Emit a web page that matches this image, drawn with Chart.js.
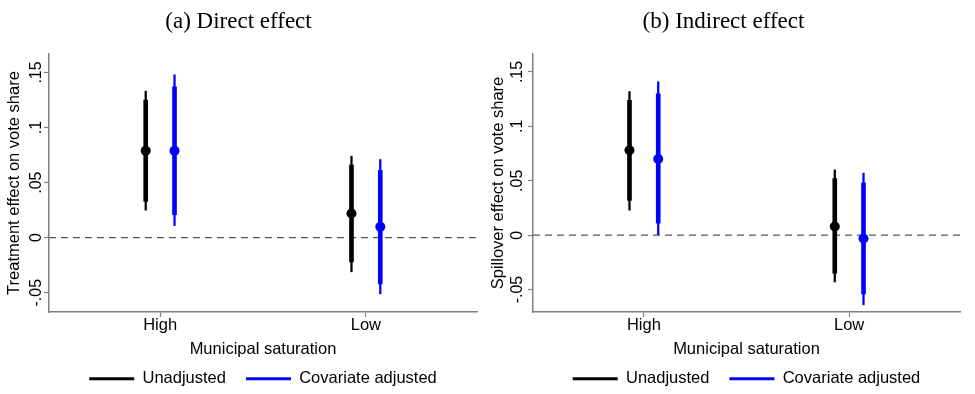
<!DOCTYPE html>
<html>
<head>
<meta charset="utf-8">
<script src="https://cdn.jsdelivr.net/npm/chart.js@4.4.0/dist/chart.umd.min.js"></script>
<style>
  body { margin: 0; background: #ffffff; }
  .wrap { display: flex; width: 975px; height: 394px; }
  canvas { display: block; }
</style>
</head>
<body>
<div class="wrap">
  <canvas id="direct" width="487" height="394"></canvas>
  <canvas id="indirect" width="488" height="394"></canvas>
</div>
<script>
// categories and series
var categories = ['High', 'Low'];
var seriesNames = ['Unadjusted', 'Covariate adjusted'];
var seriesColors = ['#000000', '#0000ff'];

// y ticks (Stata style labels)
var yTicks = [-0.05, 0, 0.05, 0.1, 0.15];
var yTickLabels = ['-.05', '0', '.05', '.1', '.15'];

// (a) direct effect - point estimates and intervals [low, high]
var directUnadj = [0.079, 0.022];
var directUnadjCI90 = [[0.033, 0.125], [-0.022, 0.066]];
var directUnadjCI95 = [[0.025, 0.133], [-0.031, 0.074]];
var directAdj = [0.079, 0.010];
var directAdjCI90 = [[0.021, 0.137], [-0.042, 0.061]];
var directAdjCI95 = [[0.011, 0.148], [-0.051, 0.071]];

// (b) indirect effect
var indirectUnadj = [0.078, 0.008];
var indirectUnadjCI90 = [[0.032, 0.124], [-0.035, 0.052]];
var indirectUnadjCI95 = [[0.023, 0.132], [-0.043, 0.060]];
var indirectAdj = [0.070, -0.003];
var indirectAdjCI90 = [[0.011, 0.130], [-0.054, 0.048]];
var indirectAdjCI95 = [[0.000, 0.141], [-0.064, 0.057]];

var axisColor = '#808080';
var sans = 'Liberation Sans, Arial, sans-serif';
var textFont = { family: sans, size: 16.5 };

function buildChart(id, cfg) {
    var shift = [-0.07, 0.07];
    var xMin = 1 - 0.54, xMax = 2 + 0.54;
    var datasets = [];

    // markers on top
    for (var s = 0; s < 2; s++) {
        datasets.push({
            type: 'scatter',
            data: cfg.est[s].map(function (v, i) { return { x: i + 1 + shift[s], y: v }; }),
            pointRadius: 5,
            pointBackgroundColor: seriesColors[s],
            pointBorderWidth: 0
        });
    }
    // thick (inner) intervals
    for (var s = 0; s < 2; s++) {
        datasets.push({
            type: 'bar',
            data: cfg.ci90[s].map(function (r, i) { return { x: i + 1 + shift[s], y: r }; }),
            backgroundColor: seriesColors[s],
            barThickness: 4,
            grouped: false,
            borderWidth: 0
        });
    }
    // thin (outer) intervals
    for (var s = 0; s < 2; s++) {
        datasets.push({
            type: 'bar',
            data: cfg.ci95[s].map(function (r, i) { return { x: i + 1 + shift[s], y: r }; }),
            backgroundColor: seriesColors[s],
            barThickness: 1.6,
            grouped: false,
            borderWidth: 0
        });
    }
    // zero reference line
    datasets.push({
        type: 'line',
        data: [{ x: xMin, y: 0 }, { x: xMax, y: 0 }],
        borderColor: '#555555',
        borderWidth: 1.3,
        borderDash: [7, 5],
        pointRadius: 0
    });

    new Chart(document.getElementById(id), {
        type: 'bar',
        data: { datasets: datasets },
        options: {
            responsive: false,
            animation: false,
            events: [],
            layout: { padding: { left: 0, right: cfg.padRight, top: 0, bottom: -3 } },
            scales: {
                x: {
                    type: 'linear',
                    min: xMin,
                    max: xMax,
                    offset: false,
                    afterBuildTicks: function (sc) {
                        sc.ticks = categories.map(function (c, i) { return { value: i + 1 }; });
                    },
                    afterFit: function (sc) { sc.height = 38.5; },
                    ticks: {
                        callback: function (v) { return categories[v - 1]; },
                        font: textFont,
                        color: '#000',
                        padding: -1,
                        maxRotation: 0,
                        autoSkip: false
                    },
                    grid: { drawOnChartArea: false, drawTicks: true, tickLength: 5, tickColor: axisColor, tickWidth: 1.2, offset: false },
                    border: { color: axisColor, width: 1.5 },
                    title: { display: true, text: 'Municipal saturation', font: textFont, color: '#000', padding: { top: 0, bottom: -8.4 } }
                },
                y: {
                    min: cfg.yMin,
                    max: cfg.yMax,
                    afterBuildTicks: function (sc) {
                        sc.ticks = yTicks.map(function (v) { return { value: v }; });
                    },
                    afterFit: function (sc) { sc.width = cfg.yWidth; },
                    ticks: {
                        callback: function (v) { return yTickLabels[yTicks.indexOf(v)]; },
                        font: { family: sans, size: 16 },
                        color: '#000',
                        minRotation: 90,
                        maxRotation: 90,
                        crossAlign: 'center',
                        padding: cfg.yTickPad
                    },
                    grid: { drawOnChartArea: false, drawTicks: true, tickLength: 5, tickColor: axisColor, tickWidth: 1.2 },
                    border: { color: axisColor, width: 1.5 },
                    title: { display: true, text: cfg.yTitle, font: textFont, color: '#000', padding: { top: cfg.yTitlePad, bottom: 0 } }
                }
            },
            plugins: {
                title: {
                    display: true,
                    text: cfg.title,
                    font: { family: 'Liberation Serif, Times New Roman, serif', size: 23, weight: 'normal' },
                    color: '#000',
                    padding: { top: 8.2, bottom: 18.2 }
                },
                legend: {
                    position: 'bottom',
                    fullSize: false,
                    labels: {
                        usePointStyle: true,
                        pointStyleWidth: 45,
                        padding: 20,
                        font: textFont,
                        color: '#000',
                        generateLabels: function () {
                            return seriesNames.map(function (n, s) {
                                return { text: n, fillStyle: seriesColors[s], strokeStyle: seriesColors[s], lineWidth: 3, pointStyle: 'line', hidden: false, datasetIndex: s, fontColor: '#000' };
                            });
                        }
                    }
                },
                tooltip: { enabled: false }
            }
        }
    });
}

buildChart('direct', {
    title: '(a) Direct effect',
    yTitle: 'Treatment effect on vote share',
    est: [directUnadj, directAdj],
    ci90: [directUnadjCI90, directAdjCI90],
    ci95: [directUnadjCI95, directAdjCI95],
    yMin: -0.0675, yMax: 0.1668,
    yWidth: 49, yTickPad: -6.8, yTitlePad: 4.6, padRight: 10
});

buildChart('indirect', {
    title: '(b) Indirect effect',
    yTitle: 'Spillover effect on vote share',
    est: [indirectUnadj, indirectAdj],
    ci90: [indirectUnadjCI90, indirectAdjCI90],
    ci95: [indirectUnadjCI95, indirectAdjCI95],
    yMin: -0.0706, yMax: 0.1665,
    yWidth: 46, yTickPad: -3.8, yTitlePad: 1.6, padRight: 15
});
</script>
</body>
</html>
